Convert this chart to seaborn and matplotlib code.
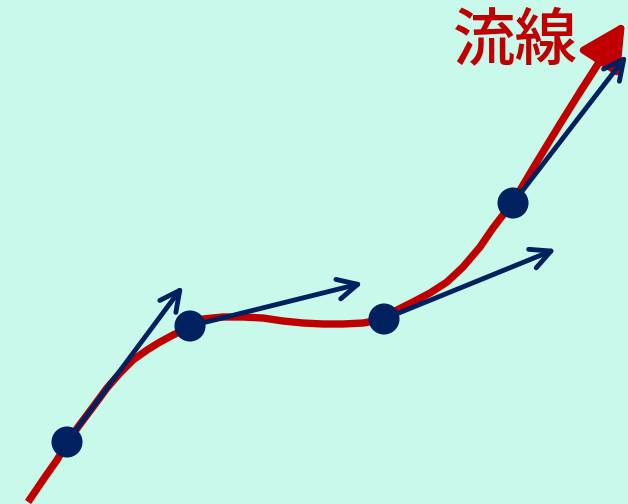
import matplotlib
matplotlib.use("Agg")
import matplotlib.pyplot as plt
import seaborn as sns
import pandas as pd

sns.set_theme(style="white")
plt.rcParams['font.family'] = ['Noto Sans CJK JP', 'DejaVu Sans']

# streamline (pixel x, height from bottom)
curve_x = [28, 45, 57, 67, 78, 93, 107, 120, 133, 147, 160, 173, 188,
           203, 223, 243, 263, 283, 303, 323, 343, 363, 380,
           393, 413, 430, 447, 463, 480, 493, 503, 513, 535, 560, 580, 598]
curve_y = [2, 27, 44, 61, 77, 97, 116, 131, 144, 154, 162, 169, 176,
           185, 187, 187, 186, 183, 181, 180, 180, 181, 184,
           192, 202, 211, 222, 237, 257, 276, 289, 302, 339, 380, 412, 440]
tip = (625, 482)

# points on the streamline and their velocity vectors
pt_x = [67, 190, 384, 513]
pt_y = [62, 178, 185, 301]
vec_x = [183, 363, 556, 627]
vec_y = [218, 221, 255, 449]

label = "流線"
red = "#C00000"
navy = "#002060"
bg = "#C9F9EA"

fig = plt.figure(figsize=(6.28, 5.04), dpi=100)
ax = fig.add_axes([0, 0, 1, 1])
fig.patch.set_facecolor(bg)
ax.set_facecolor(bg)

df = pd.DataFrame({"x": curve_x, "y": curve_y})
sns.lineplot(data=df, x="x", y="y", sort=False, estimator=None, color=red,
             lw=5.3, ax=ax, zorder=1, solid_capstyle="butt",
             solid_joinstyle="round")
ax.annotate("", xy=tip, xytext=(curve_x[-2], curve_y[-2]),
            arrowprops=dict(arrowstyle="-|>,head_length=0.62,head_width=0.32",
                            mutation_scale=45, lw=5, color=red,
                            shrinkA=0, shrinkB=0), zorder=2)

for x0, y0, x1, y1 in zip(pt_x, pt_y, vec_x, vec_y):
    ax.annotate("", xy=(x1, y1), xytext=(x0, y0),
                arrowprops=dict(arrowstyle="->,head_length=0.6,head_width=0.3",
                                mutation_scale=24, lw=3.5, color=navy,
                                capstyle="round", joinstyle="round",
                                shrinkA=0, shrinkB=0), zorder=3)

sns.scatterplot(x=pt_x, y=pt_y, s=500, color=navy, edgecolor="none",
                ax=ax, zorder=4)

ax.text(515, 462, label, color=red, fontsize=45, fontweight="medium",
        ha="center", va="center")

ax.set_xlim(0, 628)
ax.set_ylim(0, 504)
ax.set_axis_off()
fig.savefig("out.png", dpi=100, facecolor=bg)
